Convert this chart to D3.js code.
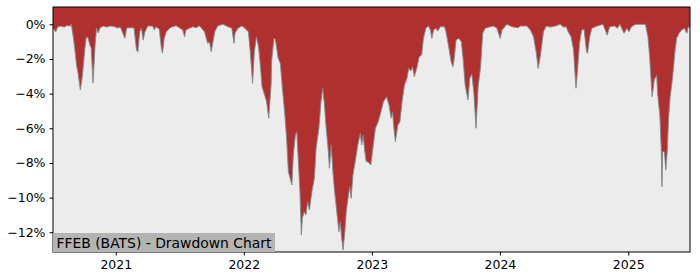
<!DOCTYPE html>
<html>
<head>
<meta charset="utf-8">
<script src="https://cdn.jsdelivr.net/npm/d3@7"></script>
<style>
  body { margin: 0; background: #fff; }
  text { font-family: "DejaVu Sans", sans-serif; }
</style>
</head>
<body>
<div id="chart"></div>
<script>
var title = "FFEB (BATS) - Drawdown Chart";

var dates = [
  "2020-07-06","2020-07-10","2020-07-14","2020-07-19","2020-07-27","2020-08-07","2020-08-15","2020-08-24","2020-08-27","2020-09-01",
  "2020-09-06","2020-09-11","2020-09-15","2020-09-22","2020-09-28","2020-10-05","2020-10-09","2020-10-14","2020-10-19","2020-10-23",
  "2020-10-28","2020-11-03","2020-11-07","2020-11-12","2020-11-17","2020-11-26","2020-12-05","2020-12-16","2020-12-28","2021-01-06",
  "2021-01-14","2021-01-27","2021-02-01","2021-02-14","2021-02-22","2021-03-01","2021-03-05","2021-03-10","2021-03-15","2021-03-20",
  "2021-03-25","2021-04-02","2021-04-16","2021-04-21","2021-04-25","2021-05-05","2021-05-11","2021-05-14","2021-05-19","2021-05-25",
  "2021-06-04","2021-06-12","2021-06-22","2021-07-02","2021-07-11","2021-07-16","2021-07-20","2021-07-31","2021-08-09","2021-08-18",
  "2021-08-27","2021-09-02","2021-09-11","2021-09-20","2021-09-25","2021-09-30","2021-10-05","2021-10-10","2021-10-19","2021-11-03",
  "2021-11-17","2021-11-28","2021-12-04","2021-12-07","2021-12-15","2021-12-26","2021-12-30","2022-01-06","2022-01-14","2022-01-19",
  "2022-01-26","2022-01-31","2022-02-06","2022-02-12","2022-02-17","2022-02-22","2022-02-25","2022-03-07","2022-03-13","2022-03-20",
  "2022-03-21","2022-03-28","2022-04-01","2022-04-09","2022-04-15","2022-04-21","2022-04-28","2022-05-03","2022-05-08","2022-05-13",
  "2022-05-18","2022-05-22","2022-05-28","2022-06-01","2022-06-06","2022-06-10","2022-06-14","2022-06-17","2022-06-22","2022-06-27",
  "2022-07-02","2022-07-07","2022-07-14","2022-07-21","2022-07-26","2022-08-03","2022-08-09","2022-08-14","2022-08-19","2022-08-23",
  "2022-08-30","2022-09-02","2022-09-07","2022-09-12","2022-09-16","2022-09-23","2022-09-29","2022-10-03","2022-10-07","2022-10-11",
  "2022-10-16","2022-10-20","2022-10-25","2022-10-30","2022-11-03","2022-11-08","2022-11-16","2022-11-22","2022-11-29","2022-12-03",
  "2022-12-07","2022-12-12","2022-12-16","2022-12-21","2022-12-29","2023-01-05","2023-01-11","2023-01-19","2023-01-27","2023-02-03",
  "2023-02-12","2023-02-19","2023-02-25","2023-03-01","2023-03-04","2023-03-09","2023-03-16","2023-03-22","2023-03-28","2023-04-04",
  "2023-04-11","2023-04-16","2023-04-22","2023-04-27","2023-05-02","2023-05-09","2023-05-16","2023-05-23","2023-05-28","2023-06-04",
  "2023-06-11","2023-06-17","2023-06-21","2023-06-26","2023-07-03","2023-07-08","2023-07-15","2023-07-27","2023-07-31","2023-08-08",
  "2023-08-15","2023-08-20","2023-08-24","2023-08-29","2023-09-06","2023-09-13","2023-09-18","2023-09-24","2023-10-02","2023-10-07",
  "2023-10-13","2023-10-19","2023-10-25","2023-10-31","2023-11-07","2023-11-13","2023-11-20","2023-12-01","2023-12-13","2023-12-23",
  "2024-01-02","2024-01-07","2024-01-21","2024-02-05","2024-02-22","2024-02-28","2024-03-18","2024-03-28","2024-04-06","2024-04-14",
  "2024-04-19","2024-04-25","2024-04-30","2024-05-04","2024-05-12","2024-05-23","2024-06-07","2024-06-21","2024-06-30","2024-07-08",
  "2024-07-14","2024-07-22","2024-07-29","2024-08-05","2024-08-09","2024-08-15","2024-08-21","2024-08-28","2024-09-04","2024-09-07",
  "2024-09-13","2024-09-19","2024-10-04","2024-10-21","2024-11-02","2024-11-09","2024-11-23","2024-12-01","2024-12-08","2024-12-20",
  "2024-12-28","2025-01-03","2025-01-10","2025-01-22","2025-02-06","2025-02-19","2025-02-26","2025-03-03","2025-03-10","2025-03-16",
  "2025-03-23","2025-03-26","2025-04-01","2025-04-05","2025-04-07","2025-04-09","2025-04-14","2025-04-18","2025-04-22","2025-04-26",
  "2025-04-30","2025-05-07","2025-05-15","2025-05-19","2025-05-26","2025-06-02","2025-06-10","2025-06-17","2025-06-21","2025-06-26"
];

var drawdown = [
  -0.21,-0.33,-0.43,-0.16,-0.10,-0.16,-0.07,-0.10,0,-0.62,
  -1.37,-2.35,-2.75,-3.79,-2.93,-1.37,-0.72,-0.79,-1.19,-1.37,
  -3.39,-1.19,-0.23,-0.50,-0.21,-0.10,-0.16,-0.10,-0.13,-0.21,
  -0.16,-0.81,-0.21,-0.20,-0.21,-1.48,-1.60,-0.44,-0.21,-0.91,
  -0.44,-0.10,-0.10,-0.33,-0.14,-0.27,-1.38,-1.67,-0.81,-0.43,
  -0.21,-0.14,-0.08,-0.21,-0.33,-0.72,-0.33,-0.21,-0.14,-0.20,
  -0.08,-0.21,-0.43,-1.10,-1.00,-1.58,-1.00,-0.43,-0.08,0,
  -0.14,-0.23,-1.10,-0.50,-0.23,-0.10,-0.14,-0.27,-0.43,-1.48,
  -3.40,-1.58,-0.72,-1.29,-2.35,-3.60,-3.79,-4.47,-5.42,-3.40,
  -2.16,-0.81,-0.87,-1.96,-2.25,-3.69,-5.23,-6.58,-8.51,-8.89,
  -9.27,-7.54,-6.39,-6.20,-8.12,-9.66,-12.16,-11.19,-10.81,-11.00,
  -10.24,-10.72,-9.66,-8.89,-7.16,-6.00,-4.47,-3.69,-4.66,-5.81,
  -7.35,-8.31,-6.96,-8.51,-9.46,-10.81,-11.97,-11.39,-12.35,-13.02,
  -11.97,-10.81,-10.04,-9.37,-10.04,-8.70,-7.73,-6.96,-6.29,-6.96,
  -6.39,-7.35,-7.93,-7.93,-8.12,-6.96,-6.00,-5.62,-5.04,-4.47,
  -4.18,-4.66,-5.42,-5.04,-5.81,-6.77,-5.81,-5.62,-4.47,-3.50,
  -3.12,-2.54,-2.69,-2.45,-3.02,-2.54,-1.87,-1.77,-0.81,-0.23,
  -0.08,-0.33,-0.81,-0.33,-0.23,-0.39,-0.14,-0.14,-0.39,-1.29,
  -2.16,-2.45,-1.96,-0.91,-0.81,-1.00,-1.96,-3.50,-4.37,-3.12,
  -2.87,-3.98,-6.00,-3.60,-2.45,-0.52,-0.23,-0.16,-0.10,-0.21,
  -0.81,-0.33,0,-0.14,-0.20,-0.10,-0.10,-0.33,-0.72,-1.67,
  -2.54,-1.87,-1.10,-0.44,-0.10,-0.16,-0.10,0,-0.16,-0.14,
  -0.44,-0.72,-1.48,-3.69,-2.74,-1.10,-0.33,-0.29,-1.58,-1.67,
  -0.72,-0.23,-0.10,0,-0.62,-0.14,-0.10,-0.23,0,-0.52,
  -0.23,-0.43,-0.14,0,0,0,-0.72,-1.87,-4.18,-3.21,
  -2.93,-4.08,-5.23,-7.16,-9.37,-7.35,-7.35,-8.41,-7.35,-5.42,
  -4.27,-3.12,-1.38,-0.81,-0.50,-0.33,-0.23,-0.52,-0.14,-0.21
];

var yTicks = [0, -2, -4, -6, -8, -10, -12];
var xTickYears = [2021, 2022, 2023, 2024, 2025];
var yDomain = [-13.14, 1.0];

var margin = {top: 7, right: 10, bottom: 28, left: 53},
    width = 700 - margin.left - margin.right,
    height = 280 - margin.top - margin.bottom;

var parse = d3.timeParse("%Y-%m-%d");
var data = dates.map(function (d, i) { return {date: parse(d), value: drawdown[i]}; });

var svg = d3.select("#chart")
  .append("svg")
    .attr("width", 700)
    .attr("height", 280)
  .append("g")
    .attr("transform", "translate(" + margin.left + "," + margin.top + ")");

var x = d3.scaleTime()
  .domain(d3.extent(data, function (d) { return d.date; }))
  .range([0, width]);

var y = d3.scaleLinear()
  .domain(yDomain)
  .range([height, 0]);

svg.append("rect")
  .attr("width", width)
  .attr("height", height)
  .style("fill", "#ececec");

// red area hangs from the top of the axes down to the drawdown line
var area = d3.area()
  .x(function (d) { return x(d.date); })
  .y0(0)
  .y1(function (d) { return y(d.value); });

svg.append("path")
  .datum(data)
  .attr("d", area)
  .style("fill", "#b03030");

var line = d3.line()
  .x(function (d) { return x(d.date); })
  .y(function (d) { return y(d.value); });

svg.append("path")
  .datum(data)
  .attr("d", line)
  .style("fill", "none")
  .style("stroke", "#7f8a8a")
  .style("stroke-width", 1)
  .style("opacity", 0.9);

var fmt = function (d) { return (d < 0 ? "\u2212" + (-d) : d) + "%"; };

var yAxis = svg.append("g")
  .call(d3.axisLeft(y).tickValues(yTicks).tickFormat(fmt).tickSize(3.5).tickPadding(4));

var xAxis = svg.append("g")
  .attr("transform", "translate(0," + height + ")")
  .call(d3.axisBottom(x)
    .tickValues(xTickYears.map(function (yr) { return new Date(yr, 0, 1); }))
    .tickFormat(d3.timeFormat("%Y"))
    .tickSize(3.5)
    .tickPadding(5));

[yAxis, xAxis].forEach(function (g) {
  g.select(".domain").remove();
  g.selectAll("text").style("font-size", "12.5px").style("fill", "#000");
  g.selectAll("line").style("stroke", "#000");
});

svg.append("rect")
  .attr("width", width)
  .attr("height", height)
  .style("fill", "none")
  .style("stroke", "#000")
  .style("stroke-width", 1);

// title label sitting in the lower left corner
var label = svg.append("g");
var labelBox = label.append("rect")
  .style("fill", "#b4b4b4");
var labelText = label.append("text")
  .attr("x", 3.5)
  .attr("y", height - 4.5)
  .style("font-size", "13.9px")
  .style("fill", "#000")
  .text(title);

var tw = labelText.node().getComputedTextLength();
labelBox
  .attr("x", 0)
  .attr("y", height - 19)
  .attr("width", tw + 7)
  .attr("height", 19);
</script>
</body>
</html>
